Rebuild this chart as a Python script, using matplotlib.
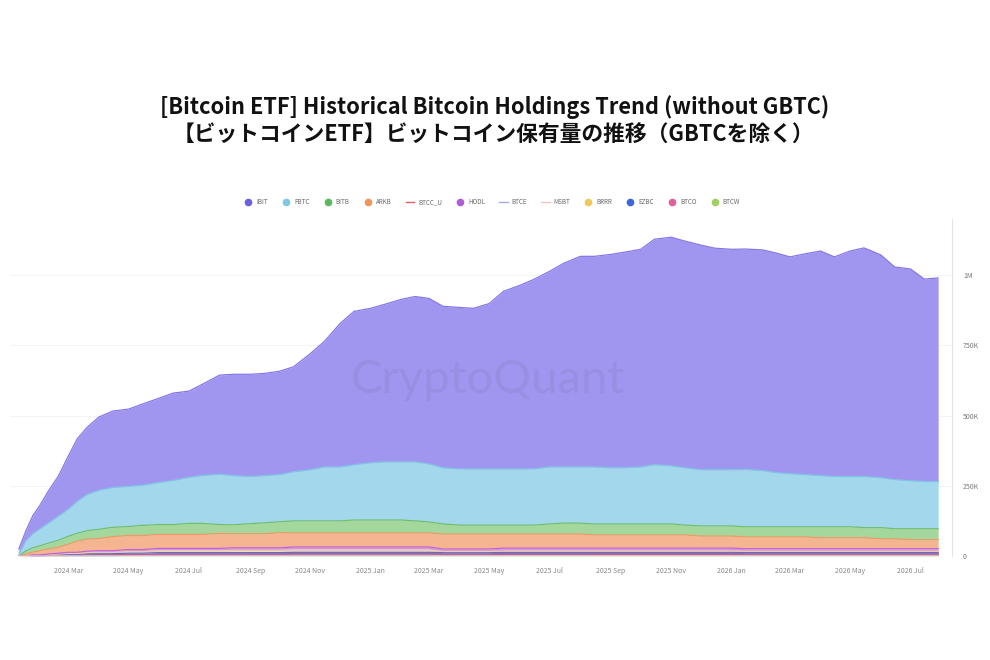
import matplotlib.pyplot as plt
from matplotlib.lines import Line2D
import pandas as pd
import numpy as np

plt.rcParams['font.family'] = ['Noto Sans CJK JP', 'DejaVu Sans']

# holdings in thousand BTC
dates = ['2024-01-11', '2024-01-18', '2024-01-25', '2024-02-01', '2024-02-10', '2024-02-20',
         '2024-03-01', '2024-03-10', '2024-03-20', '2024-04-01', '2024-04-15', '2024-05-01',
         '2024-05-15', '2024-06-01', '2024-06-15', '2024-07-01', '2024-07-15', '2024-08-01',
         '2024-08-15', '2024-09-01', '2024-09-15', '2024-10-01', '2024-10-15', '2024-11-01',
         '2024-11-15', '2024-12-01', '2024-12-15', '2025-01-01', '2025-01-15', '2025-02-01',
         '2025-02-15', '2025-03-01', '2025-03-15', '2025-04-01', '2025-04-15', '2025-05-01',
         '2025-05-15', '2025-06-01', '2025-06-15', '2025-07-01', '2025-07-15', '2025-08-01',
         '2025-08-15', '2025-09-01', '2025-09-15', '2025-10-01', '2025-10-15', '2025-11-01',
         '2025-11-15', '2025-12-01', '2025-12-15', '2026-01-01', '2026-01-15', '2026-02-01',
         '2026-02-15', '2026-03-01', '2026-03-15', '2026-04-01', '2026-04-15', '2026-05-01',
         '2026-05-15', '2026-06-01', '2026-06-15', '2026-07-01', '2026-07-15', '2026-07-29']

ibit = [18, 35, 64, 83, 114, 143, 189, 222, 239, 261, 272, 275, 289, 300, 311, 307, 325, 353,
        361, 364, 364, 368, 374, 414, 447, 511, 546, 550, 561, 579, 589, 589, 575, 575, 572, 589,
        632, 654, 675, 697, 725, 750, 750, 760, 768, 775, 803, 814, 807, 800, 789, 785, 785, 786,
        782, 772, 785, 800, 782, 803, 814, 793, 757, 754, 721, 725]
fbtc = [7, 36, 50, 60, 72, 86, 97, 114, 129, 139, 142, 143, 143, 150, 157, 164, 171, 179,
        175, 168, 168, 168, 175, 182, 192, 192, 197, 204, 207, 207, 210, 207, 200, 200, 200, 200,
        200, 200, 200, 203, 200, 200, 203, 200, 200, 203, 211, 207, 204, 200, 200, 200, 204, 200,
        193, 189, 186, 182, 179, 179, 182, 178, 175, 171, 168, 168]
bitb = [0, 11, 15, 18, 21, 25, 28, 28, 30, 33, 33, 32, 36, 35, 35, 39, 39, 32,
        32, 36, 39, 39, 43, 43, 43, 43, 46, 46, 46, 46, 43, 39, 36, 32, 32, 32,
        32, 32, 32, 36, 39, 39, 39, 39, 39, 39, 39, 39, 35, 36, 36, 36, 36, 36,
        36, 36, 36, 39, 39, 39, 36, 40, 36, 39, 39, 39]
arkb = [0, 7, 10, 14, 18, 21, 29, 40, 43, 43, 50, 50, 50, 50, 50, 50, 50, 53,
        50, 50, 50, 54, 50, 50, 50, 50, 50, 50, 50, 50, 50, 50, 53, 53, 53, 53,
        50, 50, 50, 50, 50, 50, 47, 47, 47, 47, 47, 47, 47, 43, 43, 43, 42, 42,
        42, 42, 42, 39, 39, 39, 39, 35, 35, 32, 32, 32]
hodl = [0, 0, 1, 1, 2, 3, 4, 4, 5, 6, 6, 7, 7, 8, 8, 8, 8, 8, 9, 9, 9, 9, 10, 10, 10, 10, 10,
        10, 10, 10, 10, 10, 9, 9, 9, 9, 10, 10, 10, 10, 10, 10, 10, 10, 10, 10, 10, 10, 10, 10,
        10, 10, 9, 9, 9, 9, 9, 9, 9, 9, 9, 9, 9, 9, 9, 9]
brrr = [0, 0, 1, 1, 1, 2, 3, 3, 4, 5, 5, 6, 6, 7, 7, 7, 7, 7, 8, 8, 8, 8, 9, 9, 9, 9, 9,
        9, 9, 9, 9, 9, 4, 4, 4, 4, 5, 5, 5, 5, 5, 5, 5, 5, 5, 5, 5, 5, 5, 5,
        5, 5, 5, 5, 5, 5, 5, 5, 5, 5, 5, 5, 5, 5, 5, 5]
ezbc = [0, 0, 1, 1, 2, 2, 3, 3, 4, 4, 4, 5, 5, 6, 6, 6, 6, 6, 6, 6, 6, 6, 6, 6, 6, 6, 6,
        6, 6, 6, 6, 6, 6, 6, 6, 6, 7, 7, 7, 7, 7, 7, 7, 7, 7, 7, 7, 7, 7, 7,
        7, 7, 6, 6, 6, 6, 6, 6, 6, 6, 6, 6, 6, 6, 6, 6]
btco = [0, 0, 1, 1, 1, 2, 2, 2, 3, 3, 3, 3, 3, 4, 4, 4, 4, 4, 4, 4, 4, 4, 5, 5, 5, 5, 5,
        5, 5, 5, 5, 5, 4, 4, 4, 4, 4, 4, 4, 4, 4, 4, 4, 4, 4, 4, 4, 4, 4, 4,
        4, 4, 4, 4, 4, 4, 4, 4, 4, 4, 4, 4, 4, 4, 4, 4]
btcw = [0, 0, 0, 0, 1, 1, 1, 1, 1, 1, 1, 2, 2, 2, 2, 2, 2, 2, 2, 2, 2, 2, 2, 2, 2, 2, 2,
        2, 2, 2, 2, 2, 2, 2, 2, 2, 2, 2, 2, 2, 2, 2, 2, 2, 2, 2, 2, 2, 2, 2,
        2, 2, 2, 2, 2, 2, 2, 2, 2, 2, 2, 2, 2, 2, 2, 2]

# small line-type funds (not stacked)
line_dates = ['2024-01-11', '2024-07-01', '2025-01-01', '2025-07-01', '2026-01-01', '2026-07-29']
btcc_u = [0.2, 0.4, 0.5, 0.5, 0.5, 0.5]
btce = [0.3, 1.0, 1.2, 1.1, 1.0, 1.0]
msbt = [0.0, 0.0, 0.3, 0.6, 0.7, 0.7]

x = pd.to_datetime(dates)
lx = pd.to_datetime(line_dates)

fig = plt.figure(figsize=(9.9, 6.6), dpi=100)
ax = fig.add_axes([0.0101, 0.1576, 0.9515, 0.5106])

# bottom -> top: (values, fill, edge)
stack = [
    (btcw, '#bcd9a4', '#a5cc7c'),
    (btco, '#a86aa0', '#c0609a'),
    (ezbc, '#7570b0', '#6a68b8'),
    (brrr, '#eedcc8', '#e8cfa8'),
    (hodl, '#d592e2', '#c262d8'),
    (arkb, '#f5b591', '#ef9966'),
    (bitb, '#a4d79c', '#70bf6c'),
    (fbtc, '#a2d7ec', '#7fc6e4'),
    (ibit, '#a196ef', '#8477e6'),
]
bottom = np.zeros(len(x))
for vals, fc, ec in stack:
    top = bottom + np.array(vals) * 1000
    ax.fill_between(x, bottom, top, color=fc, lw=0)
    ax.plot(x, top, color=ec, lw=0.9)
    bottom = top

ax.plot(lx, np.array(btcc_u) * 1000, color='#e06060', lw=0.8)
ax.plot(lx, np.array(btce) * 1000, color='#a8a8f0', lw=0.8)
ax.plot(lx, np.array(msbt) * 1000, color='#f0c4c4', lw=0.8)

ax.set_xlim(pd.Timestamp('2024-01-02'), pd.Timestamp('2026-08-12'))
ax.set_ylim(0, 1.2e6)

ticks = pd.date_range('2024-03-01', '2026-07-01', freq='2MS')
ax.set_xticks(ticks)
ax.set_xticklabels([t.strftime('%Y %b') for t in ticks], fontsize=5, color='#888888')
ax.yaxis.tick_right()
ax.set_yticks([0, 250000, 500000, 750000, 1000000])
ax.set_yticklabels(['0', '250K', '500K', '750K', '1M'], fontsize=5, color='#777777')
ax.tick_params(axis='both', length=0)
ax.tick_params(axis='x', pad=8)
ax.tick_params(axis='y', pad=8)
ax.grid(axis='y', color='#f2f2f2', lw=0.6)
ax.set_axisbelow(True)
for side in ['top', 'left', 'bottom']:
    ax.spines[side].set_visible(False)
ax.spines['right'].set_color('#e4e4e4')
ax.spines['right'].set_linewidth(0.8)

# watermark
fig.text(488 / 990, 1 - 380 / 660, 'CryptoQuant', fontsize=34, color='black', alpha=0.05,
         ha='center', va='center', family=['Lato', 'DejaVu Sans'])

# legend
legend_items = [
    ('IBIT', '#6c60dc', 'o'), ('FBTC', '#7ec8e3', 'o'), ('BITB', '#5cb85c', 'o'),
    ('ARKB', '#f0945a', 'o'), ('BTCC_U', '#e06060', '-'), ('HODL', '#b05cd8', 'o'),
    ('BTCE', '#a8a8f0', '-'), ('MSBT', '#f0c4c4', '-'), ('BRRR', '#f0c85a', 'o'),
    ('EZBC', '#3a68d8', 'o'), ('BTCO', '#e0609a', 'o'), ('BTCW', '#a0d060', 'o'),
]
handles = []
for name, c, kind in legend_items:
    if kind == 'o':
        handles.append(Line2D([], [], ls='none', marker='o', markersize=4.5, color=c, label=name))
    else:
        handles.append(Line2D([], [], color=c, lw=1, label=name))
fig.legend(handles=handles, loc='center', bbox_to_anchor=(492 / 990, 1 - 202 / 660), ncol=12,
           frameon=False, fontsize=4.5, labelcolor='#666666', handlelength=1.4,
           handletextpad=0.6, columnspacing=2.2)

fig.text(495 / 990, 1 - 107 / 660, '[Bitcoin ETF] Historical Bitcoin Holdings Trend (without GBTC)',
         ha='center', va='center', fontsize=15.7, fontweight='bold', color='#111111')
fig.text(493 / 990, 1 - 135 / 660, '【ビットコインETF】ビットコイン保有量の推移（GBTCを除く）',
         ha='center', va='center', fontsize=15.7, fontweight='bold', color='#111111')

fig.savefig('out.png', dpi=100)
